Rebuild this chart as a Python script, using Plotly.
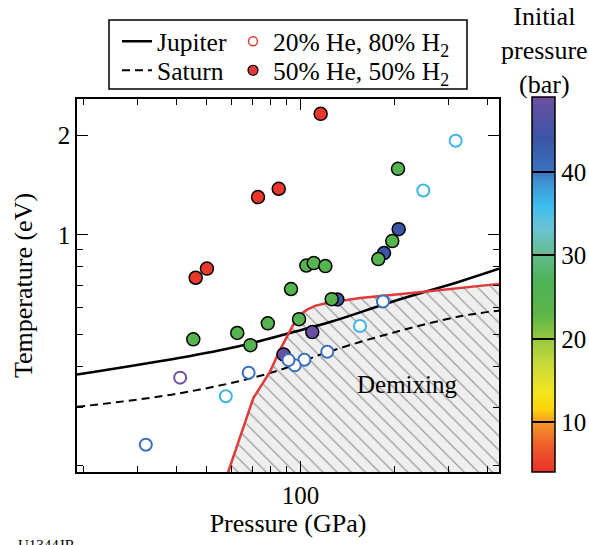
import numpy as np
import plotly.graph_objects as go

# ---------------- data ----------------
# 50% He, 50% H2 (filled)
filled_p = [131.3, 185.6, 206.9, 109.1, 88.2,
            46.0, 50.0, 73.0, 85.1, 116.1,
            45.2, 62.6, 69.0, 78.5, 93.2, 98.9, 104.4, 110.3, 120.2, 126.0, 177.9, 197.3, 205.9]
filled_T = [0.637, 0.880, 1.040, 0.507, 0.434,
            0.741, 0.790, 1.301, 1.379, 2.326,
            0.482, 0.504, 0.463, 0.539, 0.685, 0.555, 0.807, 0.821, 0.804, 0.638, 0.844, 0.957, 1.585]
filled_P0 = [44, 44, 44, 48.5, 48.5,
             4.5, 4.5, 4.5, 4.5, 4.5,
             25, 25, 25, 25, 25, 25, 25, 25, 25, 25, 25, 25, 25]

# 20% He, 80% H2 (open)
open_p = [315.5, 248.3, 184.2, 155.4, 121.9, 102.9, 95.8, 91.5, 68.1, 57.5, 41.0, 31.8]
open_T = [1.927, 1.362, 0.628, 0.529, 0.442, 0.418, 0.402, 0.417, 0.382, 0.324, 0.369, 0.231]
open_P0 = [36.5, 36.5, 40.5, 36.5, 40.5, 40.5, 40.5, 40.5, 40.5, 36.5, 49, 40.5]

# isentropes
jup_p = [19.1, 41.0, 62.4, 92.5, 126.0, 198.4, 325.8, 434.7]
jup_T = [0.377, 0.424, 0.458, 0.504, 0.546, 0.628, 0.722, 0.789]
sat_p = [19.1, 41.0, 79.8, 121.4, 198.4, 325.8, 434.7]
sat_T = [0.301, 0.331, 0.381, 0.440, 0.505, 0.566, 0.589]

# demixing boundary
dem_p = [57.4, 70.5, 79.8, 85.9, 94.8, 99.6, 104.7, 111.3, 121.4, 155.4, 254.6, 434.7]
dem_T = [0.181, 0.320, 0.385, 0.448, 0.534, 0.572, 0.592, 0.609, 0.621, 0.643, 0.673, 0.710]
region_corner_p = [440, 440]
region_corner_T = [0.712, 0.181]

x_minor = [20, 30, 40, 50, 60, 70, 80, 90, 200, 300, 400]
y_minor = [0.2, 0.3, 0.4, 0.5, 0.6, 0.7, 0.8, 0.9]

FONT = "Liberation Serif"
cmin, cmax = 4, 49
stops = [(4, "#e8312b"), (7, "#ee5a2a"), (10, "#f49a2a"), (11.5, "#fcd20a"),
         (13.5, "#f4e51e"), (17, "#c7d93a"), (20, "#94c83f"), (23, "#5cb548"),
         (27, "#4fb258"), (30, "#62bb8a"), (33, "#6cc3cf"), (36, "#3ebdf0"),
         (39, "#3f8fd0"), (40, "#3b73c0"), (44, "#3a55a5"), (49, "#6d4ea0")]
cscale = [[(v - cmin) / (cmax - cmin), c] for v, c in stops]

fig = go.Figure()

# hatched demixing region
fig.add_trace(go.Scatter(
    x=dem_p + region_corner_p, y=dem_T + region_corner_T,
    mode="lines", fill="toself", line=dict(width=0),
    fillcolor="#efefef",
    fillpattern=dict(shape="\\", bgcolor="#efefef", fgcolor="#444444", size=10, solidity=0.12),
    showlegend=False, hoverinfo="skip"))

fig.add_trace(go.Scatter(x=jup_p, y=jup_T, mode="lines", name="Jupiter",
                         line=dict(color="black", width=2.5, shape="spline"),
                         legend="legend", legendwidth=71))
fig.add_trace(go.Scatter(x=sat_p, y=sat_T, mode="lines", name="Saturn",
                         line=dict(color="black", width=2, dash="8px,5px", shape="spline"),
                         legend="legend2", legendwidth=71))
fig.add_trace(go.Scatter(x=dem_p, y=dem_T, mode="lines", showlegend=False,
                         line=dict(color="#e03a3a", width=2.5)))

fig.add_trace(go.Scatter(
    x=filled_p, y=filled_T, mode="markers", showlegend=False,
    marker=dict(size=13, color=filled_P0, colorscale=cscale, cmin=cmin, cmax=cmax,
                line=dict(color="black", width=1.5),
                showscale=True,
                colorbar=dict(thickness=23, len=375, lenmode="pixels",
                              x=1.0775, xanchor="left", xpad=0,
                              y=1.005, yanchor="top", ypad=0,
                              outlinewidth=1.5, outlinecolor="black", borderwidth=0,
                              ticks="inside", ticklen=23, tickwidth=1.5, tickcolor="black",
                              tickvals=[10, 20, 30, 40],
                              tickfont=dict(family=FONT, size=25, color="black")))))

fig.add_trace(go.Scatter(
    x=open_p, y=open_T, mode="markers", showlegend=False,
    marker=dict(size=12, color="white",
                line=dict(color=open_P0, colorscale=cscale, cmin=cmin, cmax=cmax, width=2))))

# legend-only samples
fig.add_trace(go.Scatter(x=[None], y=[None], mode="markers", name="20% He, 80% H<sub>2</sub>",
                         marker=dict(size=9, color="white", line=dict(color="#e03a3a", width=1.5)),
                         legend="legend"))
fig.add_trace(go.Scatter(x=[None], y=[None], mode="markers", name="50% He, 50% H<sub>2</sub>",
                         marker=dict(size=10, color="#e03a3a", line=dict(color="black", width=1.2)),
                         legend="legend2"))

axis_common = dict(type="log", showline=True, linecolor="black", linewidth=1.5, mirror="ticks",
                   ticks="inside", ticklen=11, tickwidth=1.2, tickcolor="black",
                   showgrid=False, zeroline=False,
                   tickfont=dict(family=FONT, size=25, color="black"))

fig.update_xaxes(**axis_common, range=[np.log10(19.1), np.log10(435)],
                 tickmode="array", tickvals=[100], ticktext=["100"],
                 minor=dict(tickmode="array", tickvals=x_minor, ticks="inside", ticklen=6,
                            tickwidth=1.2, tickcolor="black", showgrid=False),
                 title=dict(text="Pressure (GPa)", font=dict(family=FONT, size=26, color="black"),
                            standoff=6))
fig.update_yaxes(**axis_common, range=[np.log10(0.191), np.log10(2.58)],
                 tickmode="array", tickvals=[1, 2], ticktext=["1", "2"],
                 minor=dict(tickmode="array", tickvals=y_minor, ticks="inside", ticklen=6,
                            tickwidth=1.2, tickcolor="black", showgrid=False),
                 title=dict(text="Temperature (eV)", font=dict(family=FONT, size=26, color="black"),
                            standoff=18))

legend_font = dict(family=FONT, size=25.5, color="black")
fig.update_layout(
    width=589, height=545,
    margin=dict(l=77, r=90, t=99, b=73, autoexpand=False),
    plot_bgcolor="white", paper_bgcolor="white",
    font=dict(family=FONT, color="black"),
    legend=dict(orientation="h", x=0.0948, y=1.1536, xanchor="left", yanchor="middle",
                bgcolor="rgba(0,0,0,0)", font=legend_font, itemwidth=30),
    legend2=dict(orientation="h", x=0.0948, y=1.0759, xanchor="left", yanchor="middle",
                 bgcolor="rgba(0,0,0,0)", font=legend_font, itemwidth=30),
    shapes=[dict(type="rect", xref="paper", yref="paper",
                 x0=(109 - 77) / 422, x1=(467 - 77) / 422,
                 y0=(472 - 89) / 373, y1=(472 - 20) / 373,
                 line=dict(color="black", width=1.5), fillcolor="rgba(0,0,0,0)")],
    annotations=[
        dict(text="Demixing", x=np.log10(220), y=np.log10(0.351), xref="x", yref="y",
             showarrow=False, font=dict(family=FONT, size=25, color="black")),
        dict(text="Initial<br>pressure<br>(bar)", x=(544 - 77) / 422, y=(472 - 51) / 373,
             xref="paper", yref="paper", showarrow=False, xanchor="center", yanchor="middle",
             font=dict(family=FONT, size=26, color="black")),
        dict(text="U1344JR", x=(16 - 77) / 422, y=(472 - 535) / 373, xref="paper", yref="paper",
             showarrow=False, xanchor="left", yanchor="top",
             font=dict(family=FONT, size=15, color="black")),
    ],
)

fig.write_html("out.html")
